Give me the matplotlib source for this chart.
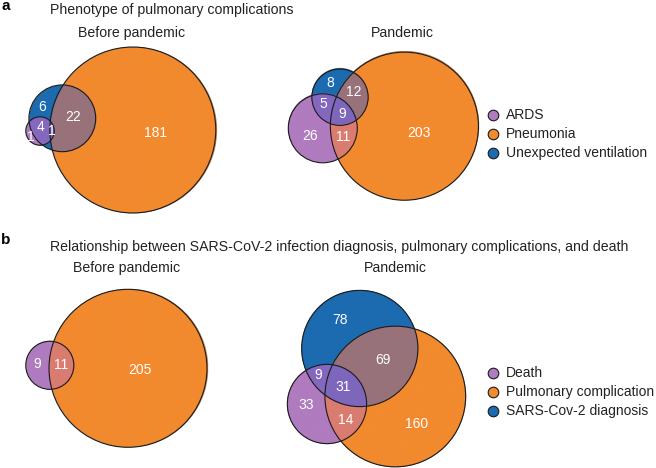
import numpy as np
import matplotlib
matplotlib.use('Agg')
import matplotlib.pyplot as plt
from matplotlib.patches import Circle
from matplotlib.colors import to_rgba

plt.rcParams['font.family'] = ['Liberation Sans', 'DejaVu Sans']

# region keys: P = purple set, O = orange set, B = blue set
regions = ['P', 'O', 'B', 'PO', 'PB', 'OB', 'POB']

a_sets = ['ARDS', 'Pneumonia', 'Unexpected ventilation']
a_before_counts = [1, 181, 6, 0, 4, 22, 1]
a_pandemic_counts = [26, 203, 8, 11, 5, 12, 9]

b_sets = ['Death', 'Pulmonary complication', 'SARS-Cov-2 diagnosis']
b_before_counts = [9, 205, 0, 11, 0, 0, 0]
b_pandemic_counts = [33, 160, 78, 14, 9, 69, 31]

set_colors = ['#B07BBF', '#F28A2E', '#1C6BB0']
region_colors = {'P': '#B07BBF', 'O': '#F28A2E', 'B': '#1C6BB0',
                 'PO': '#DA7C70', 'PB': '#8468BE', 'OB': '#98727A',
                 'POB': '#7D67BC'}
txt = '#222222'


def draw_venn(ax, counts, centers, k):
    counts = np.array(counts)
    member = np.array([[s in key for s in 'POB'] for key in regions])
    totals = member.T.astype(int) @ counts
    radii = k * np.sqrt(totals)
    act = [i for i in range(3) if totals[i] > 0]

    x0 = min(centers[i][0] - radii[i] for i in act) - 2
    x1 = max(centers[i][0] + radii[i] for i in act) + 2
    y0 = min(centers[i][1] - radii[i] for i in act) - 2
    y1 = max(centers[i][1] + radii[i] for i in act) + 2
    xs = np.arange(x0, x1, 0.25)
    ys = np.arange(y0, y1, 0.25)
    X, Y = np.meshgrid(xs, ys)
    dist = [np.hypot(X - centers[i][0], Y - centers[i][1]) for i in range(3)]
    inside = [dist[i] < radii[i] if i in act else np.zeros_like(X, bool)
              for i in range(3)]

    img = np.zeros(X.shape + (4,))
    for j, key in enumerate(regions):
        mask = np.ones_like(X, bool)
        for i in range(3):
            mask &= inside[i] == member[j, i]
        img[mask] = to_rgba(region_colors[key])
        if counts[j] > 0:
            # label at the point farthest from any boundary of the region
            margin = np.full(X.shape, np.inf)
            for i in act:
                m = radii[i] - dist[i] if member[j, i] else dist[i] - radii[i]
                margin = np.minimum(margin, m)
            margin[~mask] = -np.inf
            idx = np.unravel_index(np.argmax(margin), X.shape)
            ax.text(X[idx], Y[idx], str(counts[j]), color='white',
                    fontsize=10, ha='center', va='center', zorder=4)

    ax.imshow(img, extent=(x0, x1, y1, y0), origin='upper', aspect='auto',
              interpolation='antialiased', zorder=1)
    for i in act:
        ax.add_patch(Circle(centers[i], radii[i], fill=False, ec='#1a1a1a',
                            lw=0.8, zorder=3))


def legend(ax, labels, y_rows):
    for lab, col, y in zip(labels, set_colors, y_rows):
        ax.scatter(493, y, s=58, color=col, edgecolor='#1a1a1a', lw=0.8, zorder=3)
        ax.text(506, y, lab, fontsize=10, color=txt, va='center', ha='left')


fig = plt.figure(figsize=(6.56, 4.68), dpi=100)
ax = fig.add_axes([0, 0, 1, 1])

# panel a
ax.text(1, 6, 'a', fontsize=11, fontweight='bold', va='center')
ax.text(50, 10, 'Phenotype of pulmonary complications', fontsize=10.2, color=txt, va='center')
ax.text(132, 33, 'Before pandemic', fontsize=10.2, color=txt, va='center', ha='center')
ax.text(402, 33, 'Pandemic', fontsize=10.2, color=txt, va='center', ha='center')
draw_venn(ax, a_before_counts, [(40, 131), (132.8, 130), (62.3, 118.3)], 5.81)
draw_venn(ax, a_pandemic_counts, [(322.8, 128.3), (404.4, 126.2), (340, 97.2)], 4.83)
legend(ax, a_sets, [115, 134, 153])

# panel b
ax.text(1, 240, 'b', fontsize=11, fontweight='bold', va='center')
ax.text(50, 247, 'Relationship between SARS-CoV-2 infection diagnosis, pulmonary complications, and death',
        fontsize=10.2, color=txt, va='center')
ax.text(127, 268, 'Before pandemic', fontsize=10.2, color=txt, va='center', ha='center')
ax.text(395, 268, 'Pandemic', fontsize=10.2, color=txt, va='center', ha='center')
draw_venn(ax, b_before_counts, [(49.8, 365.3), (128, 368.3), (0, 0)], 5.375)
draw_venn(ax, b_pandemic_counts, [(327, 404), (395.3, 396.5), (359.8, 348.5)], 4.25)
legend(ax, b_sets, [373, 392, 411])

ax.set_xlim(0, 656)
ax.set_ylim(468, 0)
ax.axis('off')
fig.savefig('out.png', dpi=100)
